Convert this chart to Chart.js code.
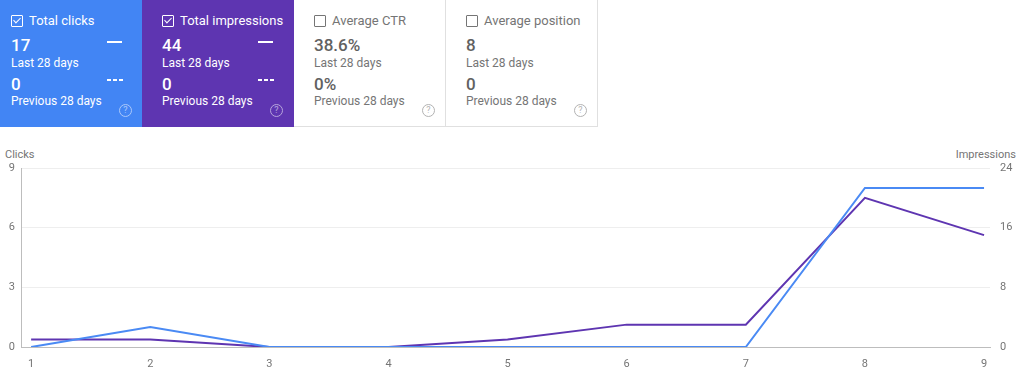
<!DOCTYPE html>
<html>
<head>
<meta charset="utf-8">
<script src="https://cdn.jsdelivr.net/npm/chart.js@4"></script>
<style>
  body { margin: 0; width: 1024px; height: 387px; overflow: hidden; background: #fff; font-family: Roboto, sans-serif; position: relative; }
  .card { position: absolute; top: 0; height: 127px; box-sizing: border-box; padding-left: 20px; }
  .card.on { color: #fff; }
  .card.off { color: #757575; border: 1px solid #e0e0e0; border-top: none; }
  .title { position: absolute; top: 13px; left: 20px; font-size: 13px; line-height: 16px; }
  .box { display: inline-block; width: 10px; height: 10px; border: 1.3px solid currentColor; border-radius: 1px; vertical-align: -2px; margin-right: 6px; position: relative; }
  .on .box::after { content: ""; position: absolute; left: 3px; top: 0px; width: 3px; height: 6px; border: solid #fff; border-width: 0 1.3px 1.3px 0; transform: rotate(45deg); }
  .val { position: absolute; left: 20px; font-size: 17px; font-weight: 500; line-height: 20px; }
  .off .val { color: #616161; }
  .lbl { position: absolute; left: 20px; font-size: 12px; line-height: 14px; }
  .dash { position: absolute; left: 116px; width: 15px; height: 2px; background: #fff; }
  .dash.d { background: repeating-linear-gradient(90deg, #fff 0 4px, transparent 4px 6px); width: 16px; }
  .help { position: absolute; left: 128px; top: 104px; width: 11px; height: 11px; border: 1px solid currentColor; border-radius: 50%; font-size: 9px; line-height: 11px; text-align: center; opacity: 0.55; }
  .axt { position: absolute; top: 148px; font-size: 11px; color: #757575; }
  #wrap { position: absolute; left: 0; top: 140px; width: 1024px; height: 247px; }
</style>
</head>
<body>
<div class="card on" style="left:-9px;width:151px;background:#4285f4;">
  <div class="title"><span class="box"></span>Total clicks</div>
  <div class="val" style="top:35px">17</div>
  <div class="lbl" style="top:56px">Last 28 days</div>
  <div class="dash" style="top:41px"></div>
  <div class="val" style="top:74px">0</div>
  <div class="lbl" style="top:94px">Previous 28 days</div>
  <div class="dash d" style="top:79px"></div>
  <div class="help">?</div>
</div>
<div class="card on" style="left:142px;width:152px;background:#5e35b1;">
  <div class="title"><span class="box"></span>Total impressions</div>
  <div class="val" style="top:35px">44</div>
  <div class="lbl" style="top:56px">Last 28 days</div>
  <div class="dash" style="top:41px"></div>
  <div class="val" style="top:74px">0</div>
  <div class="lbl" style="top:94px">Previous 28 days</div>
  <div class="dash d" style="top:79px"></div>
  <div class="help">?</div>
</div>
<div class="card off" style="left:294px;width:152px;border-left:none;">
  <div class="title"><span class="box"></span>Average CTR</div>
  <div class="val" style="top:35px">38.6%</div>
  <div class="lbl" style="top:56px">Last 28 days</div>
  <div class="val" style="top:74px">0%</div>
  <div class="lbl" style="top:94px">Previous 28 days</div>
  <div class="help">?</div>
</div>
<div class="card off" style="left:445px;width:153px;">
  <div class="title"><span class="box"></span>Average position</div>
  <div class="val" style="top:35px">8</div>
  <div class="lbl" style="top:56px">Last 28 days</div>
  <div class="val" style="top:74px">0</div>
  <div class="lbl" style="top:94px">Previous 28 days</div>
  <div class="help">?</div>
</div>

<div class="axt" style="left:5px">Clicks</div>
<div class="axt" style="right:8px">Impressions</div>
<div id="wrap"><canvas id="mycanvas"></canvas></div>

<script>
var days = [1, 2, 3, 4, 5, 6, 7, 8, 9];
var clicks = [0, 1, 0, 0, 0, 0, 0, 8, 8];
var impressions = [1, 1, 0, 0, 1, 3, 3, 20, 15];
var clickTicks = [0, 3, 6, 9];
var impressionTicks = [0, 8, 16, 24];

function pts(vals) {
  var out = [];
  for (var i in days) {
    out.push({ x: days[i], y: vals[i] });
  }
  return out;
}

var grey = '#757575';
var tickFont = { family: 'Roboto', size: 11 };

var ctx = document.getElementById('mycanvas');
var lineGraph = new Chart(ctx, {
  type: 'line',
  data: {
    datasets: [
      {
        label: 'Clicks',
        data: pts(clicks),
        borderColor: '#4a8af4',
        borderWidth: 2,
        pointRadius: 0,
        yAxisID: 'y',
        tension: 0
      },
      {
        label: 'Impressions',
        data: pts(impressions),
        borderColor: '#5e35b1',
        borderWidth: 2,
        pointRadius: 0,
        yAxisID: 'y1',
        tension: 0
      }
    ]
  },
  options: {
    responsive: true,
    maintainAspectRatio: false,
    animation: false,
    layout: { padding: { top: 28, left: 0, right: 0, bottom: 0 } },
    plugins: { legend: { display: false }, tooltip: { enabled: false } },
    scales: {
      x: {
        type: 'linear',
        min: 0.915,
        max: 9.05,
        afterBuildTicks: function(axis) {
          axis.ticks = days.map(function(d) { return { value: d }; });
        },
        afterFit: function(axis) { axis.height = 40; },
        grid: { display: false, drawTicks: false },
        border: { color: '#bdbdbd', width: 1 },
        ticks: { color: grey, font: tickFont, padding: 11, maxRotation: 0 }
      },
      y: {
        position: 'left',
        min: 0,
        max: 9,
        afterBuildTicks: function(axis) {
          axis.ticks = clickTicks.map(function(v) { return { value: v }; });
        },
        afterFit: function(axis) { axis.width = 21; },
        grid: { color: '#eeeeee', drawTicks: false },
        border: { color: '#bdbdbd', width: 1 },
        ticks: { color: grey, font: tickFont, padding: 6 }
      },
      y1: {
        position: 'right',
        min: 0,
        max: 24,
        afterBuildTicks: function(axis) {
          axis.ticks = impressionTicks.map(function(v) { return { value: v }; });
        },
        afterFit: function(axis) { axis.width = 34; },
        grid: { display: false, drawTicks: false },
        border: { display: false },
        ticks: { color: grey, font: tickFont, padding: 10 }
      }
    }
  }
});
</script>
</body>
</html>
